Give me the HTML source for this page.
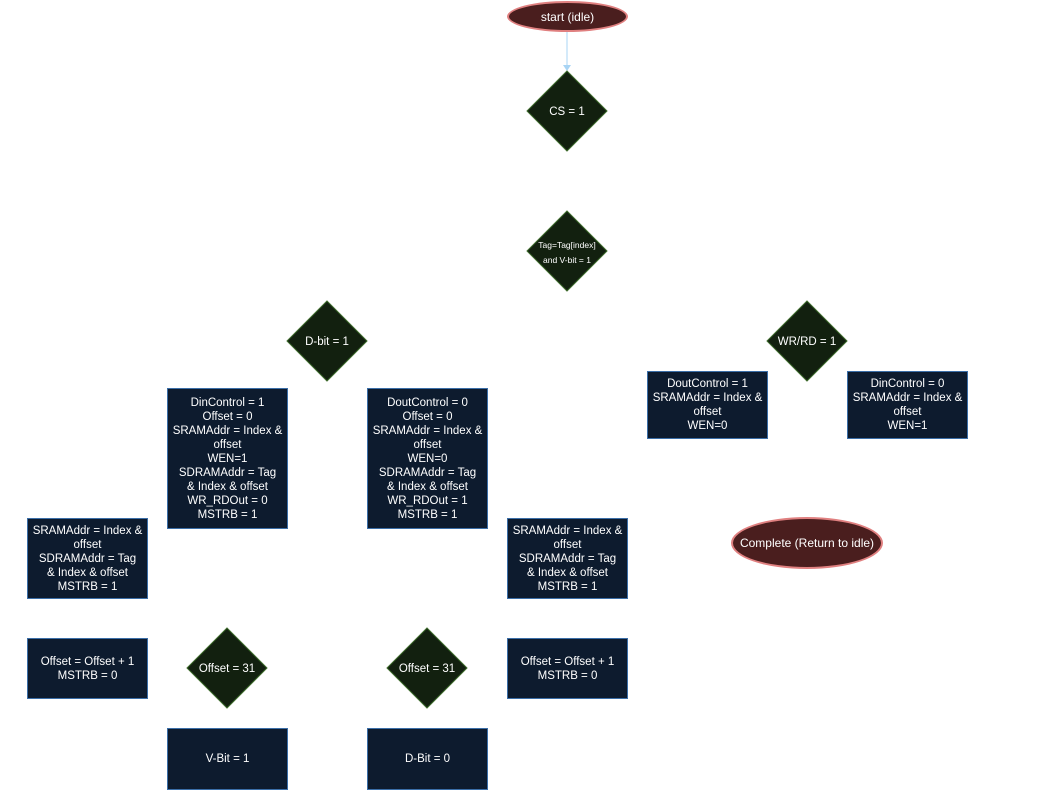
<!DOCTYPE html>
<html><head><style>
body{margin:0;width:1058px;height:789px;background:#fff;position:relative;overflow:hidden;font-family:"Liberation Sans",sans-serif;}
.b{position:absolute;box-sizing:border-box;background:#0d1b2e;border:1px solid #3a6ea8;color:#fff;font-size:11.5px;line-height:14px;text-align:center;display:flex;align-items:center;justify-content:center;}
.e{position:absolute;box-sizing:border-box;background:#4a1e1e;border:2px solid #e08080;border-radius:50%;color:#fff;font-size:12px;display:flex;align-items:center;justify-content:center;}
svg{position:absolute;left:0;top:0}
</style></head><body>
<svg width="1058" height="789" font-family="Liberation Sans, sans-serif" fill="#fff">
<line x1="567" y1="31" x2="567" y2="66" stroke="#a8d4f4" stroke-width="1"/>
<polygon points="563,65 571,65 567,71" fill="#a8d4f4"/>
<g fill="#12200f" stroke="#3c6a2a" stroke-width="1">
<polygon points="567,71 607,111 567,151 527,111"/>
<polygon points="567,211 607,251 567,291 527,251"/>
<polygon points="327,301 367,341 327,381 287,341"/>
<polygon points="807,301 847,341 807,381 767,341"/>
<polygon points="227,628 267,668 227,708 187,668"/>
<polygon points="427,628 467,668 427,708 387,668"/>
</g>
<g fill="#fff" font-size="11.5" text-anchor="middle">
<text x="567" y="115">CS = 1</text>
<text x="567" y="248" font-size="8.5">Tag=Tag[index]</text>
<text x="567" y="263" font-size="8.5">and V-bit = 1</text>
<text x="327" y="345">D-bit = 1</text>
<text x="807" y="345">WR/RD = 1</text>
<text x="227" y="672">Offset = 31</text>
<text x="427" y="672">Offset = 31</text>
</g>
</svg>
<div class="e" style="left:507px;top:1px;width:121px;height:31px">start (idle)</div>
<div class="e" style="left:731px;top:517px;width:152px;height:52px">Complete (Return to idle)</div>
<div class="b" style="left:167px;top:388px;width:121px;height:141px">DinControl = 1<br>Offset = 0<br>SRAMAddr = Index &amp;<br>offset<br>WEN=1<br>SDRAMAddr = Tag<br>&amp; Index &amp; offset<br>WR_RDOut = 0<br>MSTRB = 1</div>
<div class="b" style="left:367px;top:388px;width:121px;height:141px">DoutControl = 0<br>Offset = 0<br>SRAMAddr = Index &amp;<br>offset<br>WEN=0<br>SDRAMAddr = Tag<br>&amp; Index &amp; offset<br>WR_RDOut = 1<br>MSTRB = 1</div>
<div class="b" style="left:647px;top:371px;width:121px;height:68px">DoutControl = 1<br>SRAMAddr = Index &amp;<br>offset<br>WEN=0</div>
<div class="b" style="left:847px;top:371px;width:121px;height:68px">DinControl = 0<br>SRAMAddr = Index &amp;<br>offset<br>WEN=1</div>
<div class="b" style="left:27px;top:518px;width:121px;height:81px">SRAMAddr = Index &amp;<br>offset<br>SDRAMAddr = Tag<br>&amp; Index &amp; offset<br>MSTRB = 1</div>
<div class="b" style="left:507px;top:518px;width:121px;height:81px">SRAMAddr = Index &amp;<br>offset<br>SDRAMAddr = Tag<br>&amp; Index &amp; offset<br>MSTRB = 1</div>
<div class="b" style="left:27px;top:638px;width:121px;height:61px">Offset = Offset + 1<br>MSTRB = 0</div>
<div class="b" style="left:507px;top:638px;width:121px;height:61px">Offset = Offset + 1<br>MSTRB = 0</div>
<div class="b" style="left:167px;top:728px;width:121px;height:62px">V-Bit = 1</div>
<div class="b" style="left:367px;top:728px;width:121px;height:62px">D-Bit = 0</div>
</body></html>
